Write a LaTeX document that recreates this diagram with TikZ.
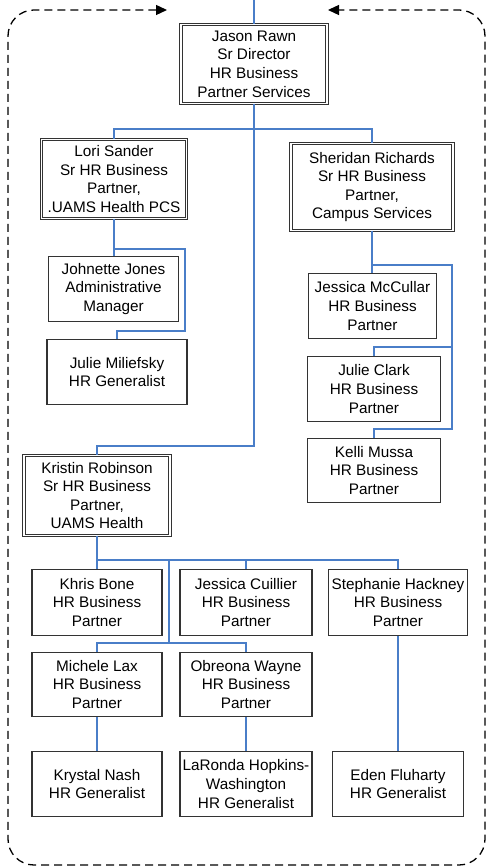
\documentclass[tikz,border=0pt]{standalone}
\usepackage{fontspec}
\setmainfont{Liberation Sans}
\usetikzlibrary{arrows.meta}
\definecolor{linkblue}{RGB}{74,126,200}
\newcommand{\boxfont}{\fontsize{15.3}{18.6}\selectfont}

\begin{document}
\begin{tikzpicture}[x=1pt, y=-1pt]
        \tikzset{member/.style = {draw=black!80, line width=1.2pt, align=center, inner sep=0pt, font=\boxfont},
                 lead/.style = {member, double, double distance=1.6pt, line width=0.9pt},
                 link/.style = {draw=linkblue, line width=1.5pt},
                 loopback/.style = {line width=1.3pt, dash pattern=on 8pt off 5pt, rounded corners=26pt,
                                    {Triangle[length=11pt,width=10pt]}-{Triangle[length=11pt,width=10pt]}}}
        \useasboundingbox (0,0) rectangle (489,866);
        % leads
        \node[lead, minimum width=146pt, minimum height=79pt] (jason) at (254,64) {Jason Rawn\\Sr Director\\HR Business\\Partner Services};
        \node[lead, minimum width=145pt, minimum height=79pt] (lori) at (114,179) {Lori Sander\\Sr HR Business\\Partner,\\.UAMS Health PCS};
        \node[lead, minimum width=162pt, minimum height=87pt] (sheridan) at (372,187) {Sheridan Richards\\Sr HR Business\\Partner,\\Campus Services};
        \node[lead, minimum width=146pt, minimum height=80pt] (kristin) at (97,495.5) {Kristin Robinson\\Sr HR Business\\Partner,\\UAMS Health};
        % staff
        \node[member, minimum width=130pt, minimum height=65pt] (johnette) at (113.5,289) {Johnette Jones\\Administrative\\Manager};
        \node[member, minimum width=140pt, minimum height=65pt] (julieM) at (117,372) {Julie Miliefsky\\HR Generalist};
        \node[member, minimum width=128pt, minimum height=65pt] (jessicaM) at (372.5,306) {Jessica McCullar\\HR Business\\Partner};
        \node[member, minimum width=133pt, minimum height=65pt] (julieC) at (374,389) {Julie Clark\\HR Business\\Partner};
        \node[member, minimum width=133pt, minimum height=64pt] (kelli) at (374,470.5) {Kelli Mussa\\HR Business\\Partner};
        \node[member, minimum width=130pt, minimum height=66pt] (khris) at (97,602.5) {Khris Bone\\HR Business\\Partner};
        \node[member, minimum width=132pt, minimum height=66pt] (jessicaC) at (246,602.5) {Jessica Cuillier\\HR Business\\Partner};
        \node[member, minimum width=139pt, minimum height=66pt] (stephanie) at (398,602.5) {Stephanie Hackney\\HR Business\\Partner};
        \node[member, minimum width=130pt, minimum height=64pt] (michele) at (97,684.5) {Michele Lax\\HR Business\\Partner};
        \node[member, minimum width=132pt, minimum height=64pt] (obreona) at (246,684.5) {Obreona Wayne\\HR Business\\Partner};
        \node[member, minimum width=130pt, minimum height=65pt] (krystal) at (97,784) {Krystal Nash\\HR Generalist};
        \node[member, minimum width=132pt, minimum height=65pt] (laronda) at (246,784) {LaRonda Hopkins-\\Washington\\HR Generalist};
        \node[member, minimum width=131pt, minimum height=65pt] (eden) at (398,784) {Eden Fluharty\\HR Generalist};
        % links
        \coordinate (feed) at (jason.north |- 0,0);
        \draw[link] (feed) -- (jason.north);
        \draw[link] (jason.south) -- ++(0,25) -| (lori.north);
        \draw[link] (jason.south) -- ++(0,25) -| (sheridan.north);
        \draw[link] (jason.south) |- (97,446) -- (kristin.north);
        \draw[link] (lori.south) -- (lori.south |- johnette.north);
        \draw[link] (lori.south) -- ++(0,30) -| (185,331) -| (julieM.north);
        \draw[link] (sheridan.south) -- (sheridan.south |- jessicaM.north);
        \draw[link] (sheridan.south) |- (452,265) |- (374,347) -- (julieC.north);
        \draw[link] (452,347) |- (374,429) -- (kelli.north);
        \draw[link] (kristin.south) -- ++(0,24) -| (khris.north);
        \draw[link] (kristin.south) -- ++(0,24) -| (jessicaC.north);
        \draw[link] (kristin.south) -- ++(0,24) -| (stephanie.north);
        \draw[link] (169,561) |- (97,643) -- (michele.north);
        \draw[link] (169,643) -| (obreona.north);
        \draw[link] (michele) -- (krystal);
        \draw[link] (obreona) -- (laronda);
        \draw[link] (stephanie) -- (eden);
        % loop round the chart
        \coordinate (backL) at (167,10);
        \coordinate (backR) at (328,10);
        \draw[loopback] (backL) -- (8,10) -- (8,865) -- (485,865) -- (485,10) -- (backR);
    \end{tikzpicture}
\end{document}
